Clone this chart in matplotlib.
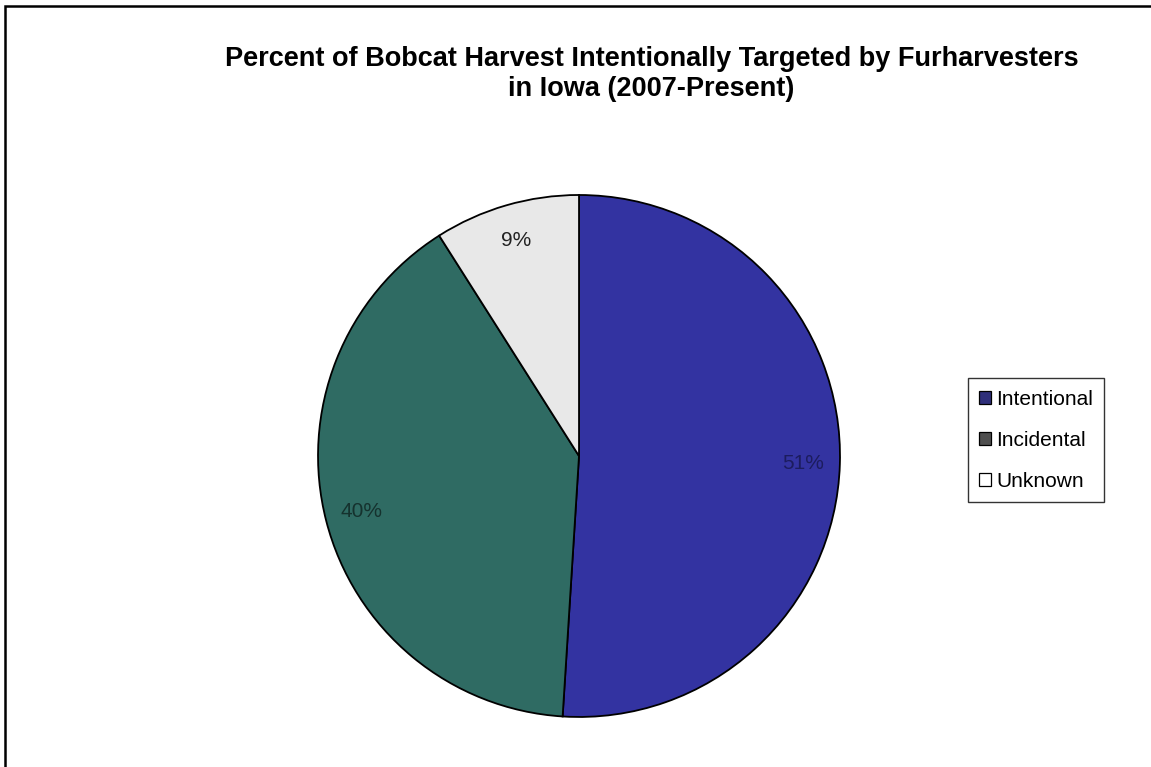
import matplotlib
matplotlib.use("Agg")
import matplotlib.pyplot as plt
from matplotlib.patches import Rectangle, Patch

plt.rcParams['font.family'] = ['Liberation Sans', 'DejaVu Sans']

# data
categories = ['Intentional', 'Incidental', 'Unknown']
percents = [51, 40, 9]
slice_colors = ['#3333a1', '#2f6b63', '#e8e8e8']
label_colors = ['#1c1c5e', '#15322e', '#222222']
legend_colors = ['#2e2e7a', '#4f4f4f', '#ffffff']

fig = plt.figure(figsize=(11.51, 7.67), dpi=100)

# outer chart frame (left and top edges visible)
fig.patches.append(Rectangle((5 / 1151, -0.1), 1.2, 1.1 - 6 / 767,
                             transform=fig.transFigure, fill=False,
                             edgecolor='black', linewidth=1.8))

ax = fig.add_axes([0.2763, 0.0652, 0.4535, 0.6806])
wedges, texts, autotexts = ax.pie(
    percents, colors=slice_colors, startangle=90, counterclock=False,
    radius=1.0, autopct='%d%%', pctdistance=0.86,
    wedgeprops=dict(edgecolor='black', linewidth=1.3),
    textprops=dict(fontsize=15))
for t, c in zip(autotexts, label_colors):
    t.set_color(c)
ax.set_xlim(-1.0, 1.0)
ax.set_ylim(-1.0, 1.0)
ax.set_aspect('equal')
ax.axis('off')

fig.text(0.566, 0.903, 'Percent of Bobcat Harvest Intentionally Targeted by Furharvesters\nin Iowa (2007-Present)',
         ha='center', va='center', fontsize=19.5, fontweight='bold', linespacing=1.2)

handles = [Patch(facecolor=c, edgecolor='black', linewidth=0.9) for c in legend_colors]
leg = fig.legend(handles, categories, loc='center left', bbox_to_anchor=(0.841, 0.426),
                 frameon=True, fancybox=False, fontsize=15, handlelength=0.55,
                 handleheight=0.55, handletextpad=0.25, labelspacing=1.05,
                 borderpad=0.55, borderaxespad=0)
leg.get_frame().set_edgecolor('black')
leg.get_frame().set_linewidth(1.0)

fig.savefig('out.png', dpi=100)
